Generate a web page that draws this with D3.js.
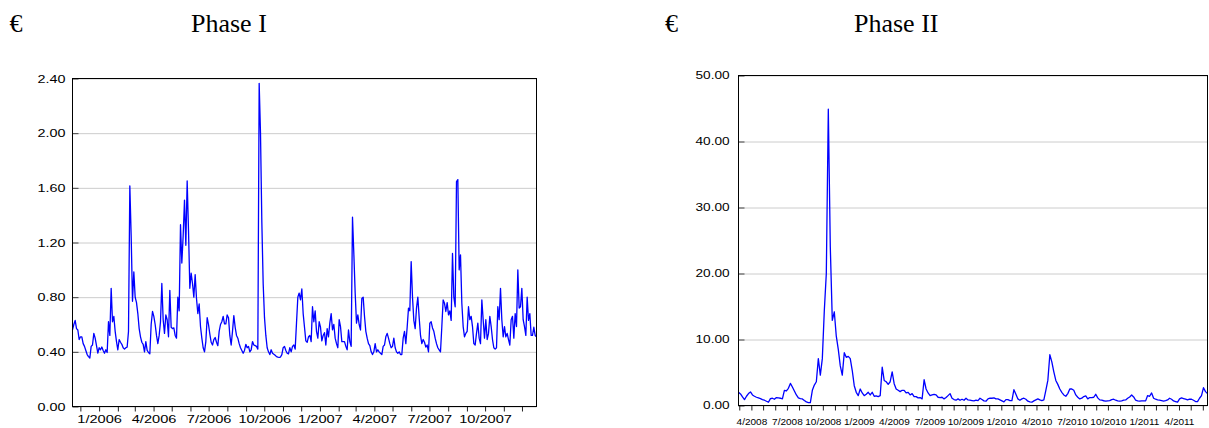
<!DOCTYPE html>
<html><head><meta charset="utf-8">
<script src="https://cdn.jsdelivr.net/npm/d3@7"></script>
<style>body{margin:0;background:#fff} svg{display:block}</style>
</head><body><svg id="c" width="1209" height="428"></svg>
<script>
// ---------- data ----------
const phase1Title = "Phase I";
const phase2Title = "Phase II";
const currencySymbol = "€";
const phase1Start = "2005-11-18", phase1End = "2007-12-25";
const phase1Values = [
 .56,.60,.63,.57,.56,.49,.51,.51,.46,.44,
 .41,.38,.365,.355,.44,.45,.535,.50,.445,.39,
 .43,.415,.435,.41,.39,.415,.395,.62,.52,.865,
 .62,.66,.55,.475,.415,.49,.47,.455,.43,.42,
 .43,.435,.55,1.615,1.25,.77,.985,.80,.76,.68,
 .57,.51,.47,.455,.40,.475,.41,.395,.385,.60,
 .695,.66,.60,.52,.46,.52,.62,.90,.635,.535,
 .67,.635,.51,.85,.58,.57,.575,.52,.50,.80,
 .70,1.33,1.05,1.25,1.51,1.18,1.65,1.29,.865,.975,
 .90,.80,.965,.79,.68,.75,.585,.50,.43,.40,
 .475,.65,.60,.53,.47,.45,.49,.505,.47,.445,
 .55,.60,.62,.66,.605,.605,.67,.65,.52,.45,
 .55,.665,.58,.52,.50,.46,.43,.41,.39,.41,
 .455,.43,.44,.40,.415,.475,.45,.445,.44,.42,
 2.365,2.0,1.35,.90,.65,.52,.43,.40,.38,.415,
 .39,.383,.375,.365,.362,.36,.362,.38,.43,.44,
 .41,.39,.385,.43,.40,.44,.45,.42,.61,.80,
 .83,.78,.86,.68,.58,.48,.47,.51,.52,.475,
 .73,.62,.70,.55,.50,.62,
 .58,.48,.52,.54,.45,.57,.51,.61,.68,.56,
 .60,.50,.46,.43,.635,.585,.475,.475,.475,.44,
 .415,.56,.475,.44,1.385,1.12,.83,.61,.67,.60,
 .56,.79,.80,.66,.55,.50,.46,.445,.40,.38,
 .40,.46,.40,.415,.40,.39,.38,.44,.45,.51,
 .535,.50,.46,.43,.44,.50,.43,.40,.39,.40,
 .38,.38,.50,.55,.46,.58,.72,.70,1.06,.80,
 .63,.57,.72,.80,.65,.52,.46,.49,.47,.435,
 .45,.40,.61,.62,.575,.55,.50,.46,.43,.415,
 .40,.585,.78,.755,.695,.76,.67,.70,.63,1.12,
 .80,.73,1.645,1.66,1.0,1.11,.755,.585,.51,.535,
 .55,.73,.635,.66,.585,.46,.45,.535,.61,.50,
 .46,.78,.635,.50,.635,.49,.535,.66,.585,.49,
 .43,.42,.43,.73,.635,.865,.635,.51,.585,.51,
 .535,.49,.45,.635,.66,.50,.68,.585,1.0,.72,
 .73,.865,.635,.585,.52,.80,.63,.68,.52,.52,
 .58,.52,.51
];
const phase1YTicks = [0, 0.4, 0.8, 1.2, 1.6, 2.0, 2.4];

const phase2Start = "2008-02-28", phase2End = "2011-06-13";
const phase2Values = [
 2.0,1.75,1.3,0.9,1.4,1.8,2.05,1.6,1.4,1.25,
 1.15,1.05,0.9,0.8,0.65,0.5,1.05,1.1,0.95,1.2,
 1.15,1.1,1.0,2.3,2.2,2.6,3.35,2.8,2.2,1.6,
 1.15,1.05,1.0,0.75,0.55,0.45,0.45,2.3,3.1,3.6,
 7.1,4.6,7.1,14.4,20,44.9,24,12.9,14.2,10.5,
 8.5,6.0,4.6,8.0,7.3,7.45,7.1,5.3,3.0,2.0,
 1.5,2.5,1.9,1.5,1.7,2.0,1.6,2.0,1.4,1.45,
 1.35,1.5,5.8,3.8,3.6,3.2,3.6,5.1,3.3,2.5,
 2.3,2.1,2.3,2.3,1.9,2.0,1.6,1.8,1.35,1.35,
 1.15,1.2,1.0,3.9,2.5,1.9,1.5,1.6,1.7,1.6,
 1.25,1.2,1.25,1.0,1.2,1.5,1.8,1.1,0.9,0.8,
 1.0,0.8,0.95,0.8,1.1,0.85,0.8,0.75,0.7,
 0.8,0.75,1.1,0.9,0.7,0.65,1.0,1.1,1.1,1.15,
 1.0,1.0,0.85,0.7,0.55,0.9,0.9,0.75,0.75,2.4,
 1.7,1.0,0.8,1.0,1.1,0.95,0.65,0.55,0.5,0.7,
 0.85,1.0,0.85,0.75,0.85,2.3,3.8,7.7,6.6,5.1,
 3.8,3.2,2.5,2.0,1.6,1.4,1.8,2.5,2.5,2.3,
 1.6,1.25,1.0,1.1,1.35,1.45,1.0,1.2,1.2,1.25,
 1.7,1.15,0.85,0.8,0.72,0.65,0.7,0.75,0.9,0.95,
 0.8,0.7,0.65,0.7,0.8,0.85,1.1,1.3,1.6,1.3,
 0.8,0.7,0.65,0.7,0.7,0.7,1.5,1.4,1.9,1.1,
 0.95,0.85,0.8,0.75,0.68,0.75,0.85,1.1,0.95,0.7,
 0.6,0.5,1.0,1.15,1.05,0.95,0.85,0.95,0.95,0.8,
 0.6,0.6,1.1,1.5,2.7,2.1,1.8
];
const phase2YTicks = [0, 10, 20, 30, 40, 50];
const labelMonths = [0, 3, 6, 9]; // quarterly labels: 1/, 4/, 7/, 10/

// ---------- drawing ----------
const svg = d3.select("#c");
svg.append("rect").attr("width", 1209).attr("height", 428).attr("fill", "#fff");
const SANS = "'Liberation Sans', Arial, Helvetica, sans-serif";
const SERIF = "'Liberation Serif', 'Times New Roman', serif";

function title(xSym, xText, text) {
  svg.append("text").attr("x", xSym).attr("y", 31.5).attr("font-family", SERIF)
    .attr("font-size", 26).attr("fill", "#000").text(currencySymbol);
  svg.append("text").attr("x", xText).attr("y", 31.5).attr("font-family", SERIF)
    .attr("font-size", 26).attr("fill", "#000").text(text);
}

function panel(o) {
  const g = svg.append("g");
  const x = d3.scaleUtc().domain([new Date(o.start), new Date(o.end)]).range([o.left, o.right]);
  const y = d3.scaleLinear().domain([0, d3.max(o.yTicks)]).range([o.bottom, o.top]);
  const n = o.values.length;
  const t0 = x.domain()[0].getTime(), t1 = x.domain()[1].getTime();
  const dates = o.values.map((v, i) => new Date(t0 + (t1 - t0) * i / (n - 1)));

  // gridlines
  const grid = g.append("g").attr("transform", `translate(${o.left},0)`)
    .call(d3.axisLeft(y).tickValues(o.yTicks).tickSize(-(o.right - o.left)).tickFormat(""));
  grid.select(".domain").remove();
  grid.selectAll("line").attr("stroke", "#cccccc").attr("stroke-width", 1);

  // series line
  g.append("path").datum(o.values)
    .attr("fill", "none").attr("stroke", "#0000ff").attr("stroke-width", 1.3)
    .attr("stroke-linejoin", "round")
    .attr("d", d3.line().x((d, i) => x(dates[i])).y(d => y(d)));

  // y axis: inner ticks + labels
  const ya = g.append("g").attr("transform", `translate(${o.left},0)`)
    .call(d3.axisLeft(y).tickValues(o.yTicks).tickSizeInner(-6).tickSizeOuter(0)
      .tickPadding(o.yPad).tickFormat(d3.format(".2f")));
  ya.select(".domain").remove();
  ya.selectAll("line").attr("stroke", "#444");
  ya.selectAll("text").attr("font-family", SANS).attr("font-size", o.yFont)
    .attr("fill", "#000").attr("transform", `scale(${o.sx},1)`);

  // x axis: monthly ticks, quarterly labels
  const xa = g.append("g").attr("transform", `translate(0,${o.bottom})`)
    .call(d3.axisBottom(x).ticks(d3.utcMonth.every(1)).tickSize(5).tickPadding(o.xPad)
      .tickFormat(d => labelMonths.includes(d.getUTCMonth())
        ? `${d.getUTCMonth() + 1}/${d.getUTCFullYear()}` : ""));
  xa.select(".domain").remove();
  xa.selectAll("line").attr("stroke", "#222");
  xa.selectAll("text").attr("font-family", SANS).attr("font-size", o.xFont)
    .attr("fill", "#000").attr("transform", `scale(${o.sxX},1)`);

  // frame
  g.append("rect").attr("x", o.left).attr("y", o.top)
    .attr("width", o.right - o.left).attr("height", o.bottom - o.top)
    .attr("fill", "none").attr("stroke", "#000").attr("stroke-width", 1);
}

title(9.5, 191, phase1Title);
title(665, 854, phase2Title);

panel({
  start: phase1Start, end: phase1End, values: phase1Values, yTicks: phase1YTicks,
  left: 72.5, right: 536.5, top: 78.5, bottom: 406.5,
  yFont: 11.5, sx: 1.25, yPad: 5.6, xFont: 11.5, sxX: 1.27, xPad: 3
});
panel({
  start: phase2Start, end: phase2End, values: phase2Values, yTicks: phase2YTicks,
  left: 738.5, right: 1207.5, top: 75.5, bottom: 405.5,
  yFont: 10.75, sx: 1.27, yPad: 7, xFont: 8.5, sxX: 1.18, xPad: 8.5
});
</script>
</body></html>
